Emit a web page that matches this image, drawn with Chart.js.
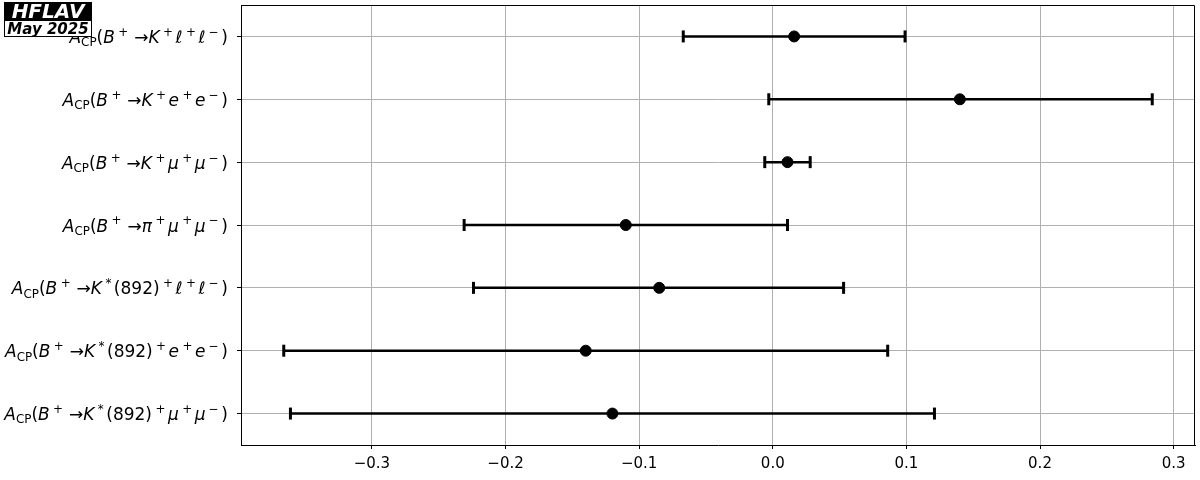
<!DOCTYPE html>
<html>
<head>
<meta charset="utf-8">
<script src="https://cdn.jsdelivr.net/npm/chart.js@4"></script>
<style>
  html, body { margin: 0; padding: 0; background: #fff; }
  #wrap { width: 1200px; height: 480px; }
</style>
</head>
<body>
<div id="wrap"><canvas id="myChart" width="1200" height="480"></canvas></div>
<script>
// categories, top to bottom (mini latex: _{} sub, ^{} sup, letters italic)
const categories = [
  "A_{CP}(B^{+} \u2192K^{+}\u2113^{+}\u2113^{-})",
  "A_{CP}(B^{+} \u2192K^{+}e^{+}e^{-})",
  "A_{CP}(B^{+} \u2192K^{+}\u03bc^{+}\u03bc^{-})",
  "A_{CP}(B^{+} \u2192\u03c0^{+}\u03bc^{+}\u03bc^{-})",
  "A_{CP}(B^{+} \u2192K^{*}(892)^{+}\u2113^{+}\u2113^{-})",
  "A_{CP}(B^{+} \u2192K^{*}(892)^{+}e^{+}e^{-})",
  "A_{CP}(B^{+} \u2192K^{*}(892)^{+}\u03bc^{+}\u03bc^{-})"
];
const central = [0.016, 0.140, 0.011, -0.110, -0.085, -0.140, -0.120];
const lower = [-0.067, -0.003, -0.006, -0.231, -0.224, -0.366, -0.361];
const upper = [0.099, 0.284, 0.028, 0.011, 0.053, 0.086, 0.121];
const xMin = -0.398;
const xMax = 0.316;
const logoTop = "HFLAV";
const logoBottom = "May 2025";

const LABEL_SIZE = 17;

function parseMath(s) {
  const runs = [];
  let i = 0;
  while (i < s.length) {
    const ch = s[i];
    if ((ch === '_' || ch === '^') && s[i + 1] === '{') {
      const end = s.indexOf('}', i);
      runs.push({ text: s.slice(i + 2, end).replace('-', '\u2212'), kind: ch === '_' ? 'sub' : 'sup' });
      i = end + 1;
    } else if (ch === ' ') {
      runs.push({ text: '', kind: 'gap' });
      i++;
    } else if (/[A-Za-z\u03b1-\u03c9]/.test(ch)) {
      runs.push({ text: ch, kind: 'it' });
      i++;
    } else {
      runs.push({ text: ch, kind: 'rm' });
      i++;
    }
  }
  return runs;
}

function runFont(kind) {
  const small = Math.round(LABEL_SIZE * 0.7 * 10) / 10;
  if (kind === 'it') return 'oblique ' + LABEL_SIZE + 'px "DejaVu Sans"';
  if (kind === 'sub' || kind === 'sup') return small + 'px "DejaVu Sans"';
  return LABEL_SIZE + 'px "DejaVu Sans"';
}

function layoutRuns(ctx, runs) {
  let x = 0;
  const out = [];
  runs.forEach(r => {
    if (r.kind === 'gap') { x += LABEL_SIZE * 0.2; return; }
    if (r.kind === 'sup') x += LABEL_SIZE * 0.2;
    ctx.font = runFont(r.kind);
    let dy = 0;
    if (r.kind === 'sub') dy = LABEL_SIZE * 0.2;
    if (r.kind === 'sup') dy = -LABEL_SIZE * 0.42;
    out.push({ text: r.text, font: ctx.font, x: x, dy: dy });
    x += ctx.measureText(r.text).width;
    if (r.kind === 'sup') x += LABEL_SIZE * 0.15;
  });
  return { items: out, width: x };
}

const labelPlugin = {
  id: 'mathLabels',
  afterDraw(chart) {
    const ctx = chart.ctx;
    const yScale = chart.scales.y;
    const area = chart.chartArea;
    ctx.save();
    ctx.fillStyle = '#000';
    ctx.textBaseline = 'alphabetic';
    ctx.textAlign = 'left';
    categories.forEach((c, i) => {
      const y = yScale.getPixelForValue(i);
      const lay = layoutRuns(ctx, parseMath(c));
      const x0 = area.left - 13 - lay.width;
      lay.items.forEach(it => {
        ctx.font = it.font;
        ctx.fillText(it.text, x0 + it.x, y + 6.5 + it.dy);
      });
    });
    // top and right spines
    ctx.strokeStyle = '#000';
    ctx.lineWidth = 1;
    ctx.beginPath();
    ctx.moveTo(Math.round(area.left) + 0.5, Math.round(area.top) + 0.5);
    ctx.lineTo(Math.round(area.right) - 0.5, Math.round(area.top) + 0.5);
    ctx.lineTo(Math.round(area.right) - 0.5, Math.round(area.bottom) + 0.5);
    ctx.stroke();
    // logo
    ctx.fillStyle = '#000';
    ctx.fillRect(4, 2, 88, 18);
    ctx.fillStyle = '#fff';
    ctx.fillRect(4, 20, 88, 17);
    ctx.strokeStyle = '#000';
    ctx.strokeRect(4.5, 20.5, 87, 16);
    ctx.textAlign = 'center';
    ctx.font = 'italic bold 20px "DejaVu Sans"';
    ctx.fillText(logoTop, 48, 18);
    ctx.fillStyle = '#000';
    ctx.font = 'italic bold 15px "DejaVu Sans"';
    ctx.fillText(logoBottom, 48, 34);
    ctx.restore();
  }
};

const errorSets = categories.map((c, i) => ({
  data: [{ x: lower[i], y: c }, { x: upper[i], y: c }],
  showLine: true,
  borderColor: '#000',
  borderWidth: 2.5,
  pointStyle: 'line',
  rotation: 90,
  pointRadius: 6,
  pointBorderWidth: 3,
  pointBorderColor: '#000',
  order: 2
}));

const pointSet = {
  data: categories.map((c, i) => ({ x: central[i], y: c })),
  pointRadius: 5.5,
  pointBackgroundColor: '#000',
  pointBorderColor: '#000',
  pointBorderWidth: 1,
  showLine: false,
  order: 0
};

const config = {
  type: 'scatter',
  data: { datasets: [pointSet].concat(errorSets) },
  options: {
    responsive: false,
    animation: false,
    devicePixelRatio: 1,
    layout: { autoPadding: false, padding: { top: 5, right: 5, left: 0, bottom: 0 } },
    plugins: { legend: { display: false }, tooltip: { enabled: false } },
    scales: {
      x: {
        type: 'linear',
        min: xMin,
        max: xMax,
        afterFit(scale) { scale.height = 35; },
        border: { display: true, color: '#000', width: 1 },
        grid: { color: '#b0b0b0', lineWidth: 1, tickColor: '#000', tickLength: 4, drawTicks: true },
        ticks: {
          stepSize: 0.1,
          includeBounds: false,
          color: '#000',
          padding: 6,
          maxRotation: 0,
          font: { family: '"DejaVu Sans"', size: 15 },
          callback: v => {
            const t = Math.abs(v) < 1e-9 ? '0.0' : v.toFixed(1);
            return t.replace('-', '\u2212');
          }
        }
      },
      y: {
        type: 'category',
        labels: categories,
        offset: true,
        afterFit(scale) { scale.width = 241; },
        border: { display: true, color: '#000', width: 1 },
        grid: { color: '#b0b0b0', lineWidth: 1, tickColor: '#000', tickLength: 4, drawTicks: true, offset: false },
        ticks: { display: false }
      }
    }
  },
  plugins: [labelPlugin]
};

const myChart = new Chart(document.getElementById('myChart'), config);
</script>
</body>
</html>
